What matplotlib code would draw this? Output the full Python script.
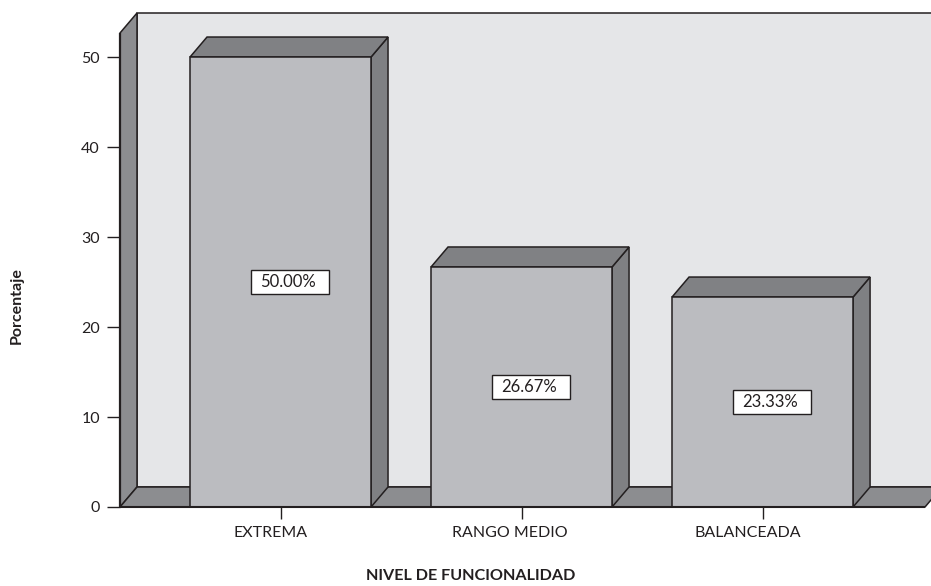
import matplotlib
matplotlib.use('Agg')
import matplotlib.pyplot as plt
from matplotlib.patches import Polygon, Rectangle
from matplotlib.transforms import ScaledTranslation

plt.rcParams['font.family'] = ['Lato', 'DejaVu Sans']

# Data
categories = ['EXTREMA', 'RANGO MEDIO', 'BALANCEADA']
percent = [50.00, 26.67, 23.33]
y_ticks = [0, 10, 20, 30, 40, 50]

# Colours
line_col = '#231f20'
back_col = '#e5e6e8'
wall_col = '#8c8d90'
front_col = '#bbbcc0'
top_col = '#808184'
side_col = '#7f8083'

fig = plt.figure(figsize=(9.31, 5.86), dpi=100)
ax = fig.add_axes([120 / 931, (586 - 507) / 586, 805 / 931, 474 / 586])
ax.set_xlim(-0.668, 2.672)
ax.set_ylim(0, 52.67)

x0, x1 = ax.get_xlim()
y0, y1 = ax.get_ylim()
# 3D depth in data units (17 px right, 20 px up)
dx = 17 / 241
dy = 20 / 9
bar_w = 181 / 241
lw = 1.1


def face(pts, color, z):
    ax.add_patch(Polygon(pts, closed=True, facecolor=color, edgecolor=line_col,
                         linewidth=lw, clip_on=False, zorder=z, joinstyle='miter'))


# Back wall, left wall and floor
face([(x0 + dx, y0 + dy), (x1 + dx, y0 + dy), (x1 + dx, y1 + dy), (x0 + dx, y1 + dy)], back_col, 1)
face([(x0, y0), (x0 + dx, y0 + dy), (x0 + dx, y1 + dy), (x0, y1)], wall_col, 2)
face([(x0, y0), (x1, y0), (x1 + dx, y0 + dy), (x0 + dx, y0 + dy)], wall_col, 2)
ax.plot([x0, x0], [y0, y1], color=line_col, lw=1.6, clip_on=False, zorder=3, solid_capstyle='butt')

# Bars
for i, val in enumerate(percent):
    left = i - bar_w / 2 - 0.002
    right = left + bar_w
    face([(right, y0), (right + dx, y0 + dy), (right + dx, val + dy), (right, val)], side_col, 4)
    face([(left, val), (right, val), (right + dx, val + dy), (left + dx, val + dy)], top_col, 4)
    face([(left, y0), (right, y0), (right, val), (left, val)], front_col, 5)

    # Value label box
    cx = i + dx / 2 + 0.002
    box_w = 78 / 241
    box_h = 24 / 9
    ax.add_patch(Rectangle((cx - box_w / 2, val / 2 - box_h / 2), box_w, box_h, facecolor='white',
                           edgecolor=line_col, linewidth=1, zorder=6))
    ax.text(cx - 0.008, val / 2, f'{val:.2f}%', ha='center', va='center', fontsize=12,
            color=line_col, zorder=7)

ax.plot([x0, x1], [y0, y0], color=line_col, lw=1.5, clip_on=False, zorder=6, solid_capstyle='butt')

# Axes
for s in ax.spines.values():
    s.set_visible(False)
ax.set_xticks(range(len(categories)))
ax.set_xticklabels(categories)
ax.set_yticks(y_ticks)
ax.tick_params(axis='x', length=8.6, width=1, color=line_col, labelcolor=line_col, labelsize=11.5, pad=5)
ax.tick_params(axis='y', length=9.4, width=1, color=line_col, labelcolor=line_col, labelsize=11.5, pad=5)

# the category labels sit left of their ticks in the original
label_shift_px = [-10, -12, -15]
for lab, shift in zip(ax.get_xticklabels(), label_shift_px):
    lab.set_transform(lab.get_transform() + ScaledTranslation(shift / 100, 0, fig.dpi_scale_trans))

fig.text(17 / 931, 1 - 306 / 586, 'Porcentaje', rotation=90, ha='center', va='center',
         fontsize=11.5, fontweight='bold', color=line_col)
fig.text(471 / 931, 1 - 576 / 586, 'NIVEL DE FUNCIONALIDAD', ha='center', va='center',
         fontsize=11.6, fontweight='bold', color=line_col)

fig.savefig('out.png', dpi=100)
plt.close(fig)
